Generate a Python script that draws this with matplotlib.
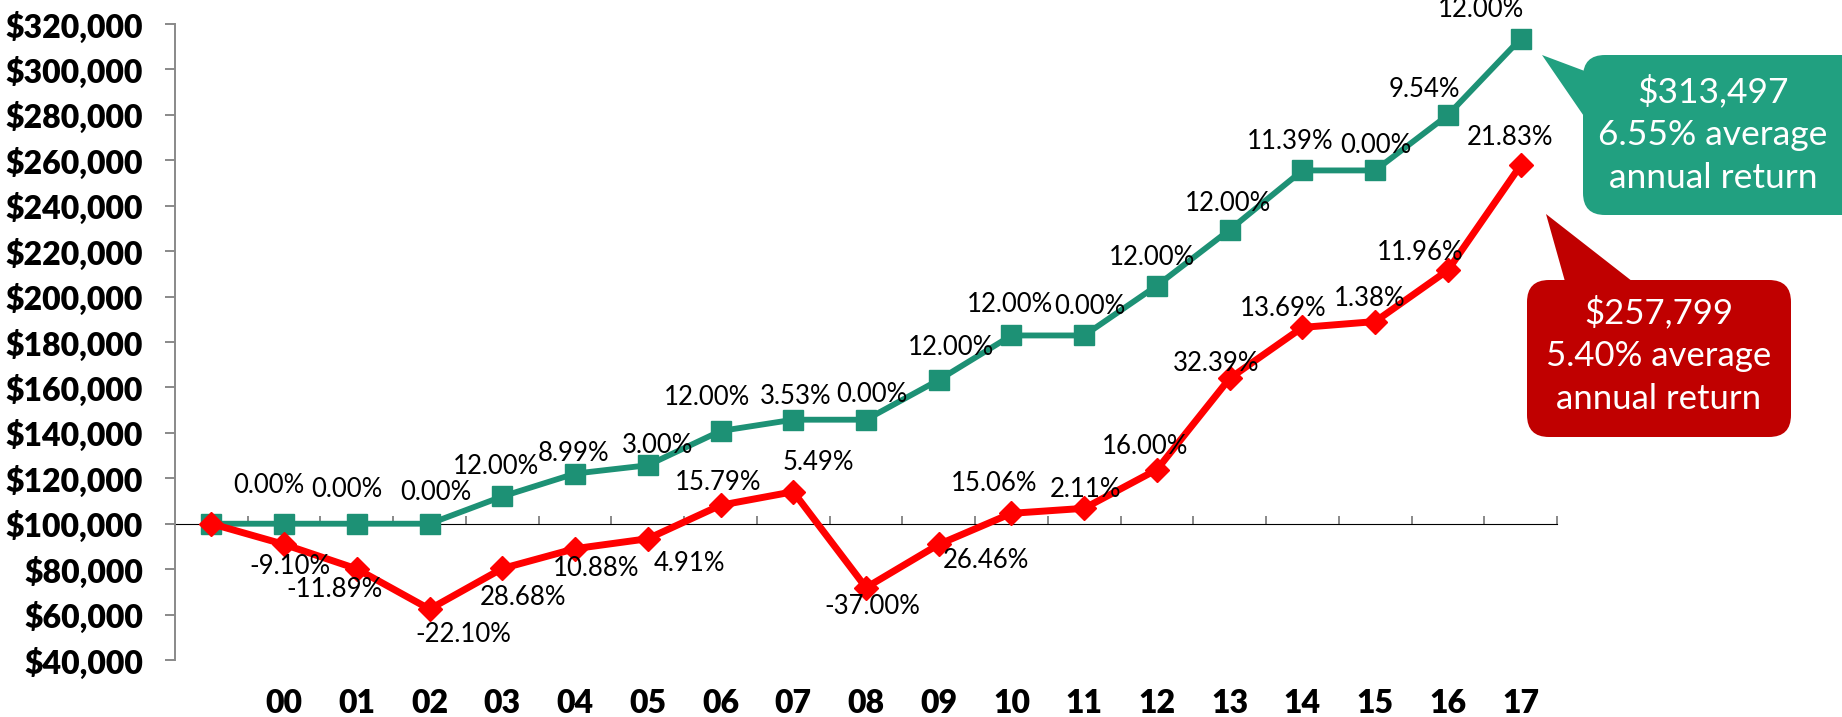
import matplotlib
matplotlib.use("Agg")
import matplotlib.pyplot as plt
from matplotlib.patches import FancyBboxPatch, Polygon
from matplotlib.ticker import StrMethodFormatter

# data
categories = ["", "00", "01", "02", "03", "04", "05", "06", "07", "08",
              "09", "10", "11", "12", "13", "14", "15", "16", "17"]

green_values = [100000, 100000, 100000, 100000, 112000, 122069, 125731,
                140819, 145790, 145790, 163285, 182879, 182879, 204825,
                229404, 255533, 255533, 279911, 313497]
green_labels = ["", "0.00%", "0.00%", "0.00%", "12.00%", "8.99%", "3.00%",
                "12.00%", "3.53%", "0.00%", "12.00%", "12.00%", "0.00%",
                "12.00%", "12.00%", "11.39%", "0.00%", "9.54%", "12.00%"]

red_values = [100000, 90900, 80092, 62392, 80286, 89021, 93392, 108138,
              114075, 71867, 90883, 104570, 106777, 123861, 163980, 186429,
              189002, 211606, 257799]
red_labels = ["", "-9.10%", "-11.89%", "-22.10%", "28.68%", "10.88%", "4.91%",
              "15.79%", "5.49%", "-37.00%", "26.46%", "15.06%", "2.11%",
              "16.00%", "32.39%", "13.69%", "1.38%", "11.96%", "21.83%"]

green_note = "$313,497\n6.55% average\nannual return"
red_note = "$257,799\n5.40% average\nannual return"

# label positions (pixel offsets from the point)
green_off = [(0, 0), (-15, 38), (-10, 34), (6, 31), (-6, 30), (-1, 20), (10, 20),
             (-14, 33), (2, 23), (6, 25), (12, 32), (-1, 31), (6, 29),
             (-5, 28), (-2, 26), (-12, 29), (1, 25), (-24, 26), (-40, 29)]
red_off = [(0, 0), (6, -22), (-22, -21), (34, -25), (21, -29), (21, -20), (42, -25),
           (-2, 23), (25, 29), (6, -19), (47, -16), (-17, 30), (1, 19),
           (-12, 23), (-14, 15), (-19, 19), (-5, 23), (-28, 18), (-11, 28)]

GREEN = "#1d9175"
GREEN_BOX = "#21a080"
RED = "#ff0000"
RED_BOX = "#c00000"
GRAY = "#898989"

plt.rcParams["font.family"] = ["Lato", "DejaVu Sans"]

W, H = 1842, 717
fig = plt.figure(figsize=(W / 100, H / 100), dpi=100)
ax = fig.add_axes([175 / W, 1 - 660 / H, (1557 - 175) / W, (660 - 24) / H])

x = list(range(len(categories)))
ax.plot(x, green_values, color=GREEN, lw=4.2, marker="s", ms=15,
        zorder=3, clip_on=False)
ax.plot(x, red_values, color=RED, lw=5, marker="D", ms=12,
        zorder=4, clip_on=False)

for i in x:
    if green_labels[i]:
        ax.annotate(green_labels[i], (i, green_values[i]), xytext=green_off[i],
                    textcoords="offset pixels", ha="center", va="center",
                    fontsize=18.5, color="black", zorder=5)
    if red_labels[i]:
        ax.annotate(red_labels[i], (i, red_values[i]), xytext=red_off[i],
                    textcoords="offset pixels", ha="center", va="center",
                    fontsize=18.5, color="black", zorder=5)

ax.set_xlim(-0.5, len(categories) - 0.5)
ax.set_ylim(40000, 320000)
ax.set_yticks(range(40000, 320001, 20000))
ax.yaxis.set_major_formatter(StrMethodFormatter("${x:,.0f}"))

for s in ["top", "right", "bottom"]:
    ax.spines[s].set_visible(False)
ax.spines["left"].set_color(GRAY)
ax.spines["left"].set_linewidth(1.4)
ax.tick_params(axis="y", direction="out", length=7, width=1.4, color=GRAY,
               pad=16, labelsize=23)
for t in ax.get_yticklabels():
    t.set_fontweight("heavy")

# category labels at the bottom
ax.set_xticks(x, categories)
ax.tick_params(axis="x", length=0, pad=21, labelsize=23)
for t in ax.get_xticklabels():
    t.set_fontweight("heavy")

# horizontal category axis crossing at $100,000
sec = ax.secondary_xaxis(100000, transform=ax.transData)
sec.set_xticks([i + 0.5 for i in x], [""] * len(x))
sec.tick_params(axis="x", direction="out", length=6, width=1.4, color=GRAY)
sec.spines["bottom"].set_color(GRAY)
sec.spines["bottom"].set_linewidth(1.4)


def px(xp, yp):
    return (xp / 100, (H - yp) / 100)


def callout(x0, y0, x1, y1, tri, color, text, tx, ty, size):
    (bx, by) = px(x0, y1)
    box = FancyBboxPatch((bx, by), (x1 - x0) / 100, (y1 - y0) / 100,
                         boxstyle="round,pad=0,rounding_size=0.22",
                         transform=fig.dpi_scale_trans, fc=color, ec="none")
    fig.add_artist(box)
    fig.add_artist(Polygon([px(*p) for p in tri], closed=True,
                           transform=fig.dpi_scale_trans, fc=color, ec="none"))
    fig.text(*px(tx, ty), text, transform=fig.dpi_scale_trans, ha="center",
             va="center", color="white", fontsize=size, linespacing=1.42)


callout(1583, 55, 1870, 215, [(1542, 55), (1590, 73), (1590, 125)],
        GREEN_BOX, green_note, 1713, 134, 25.5)
callout(1527, 280, 1791, 437, [(1546, 214), (1566, 285), (1637, 285)],
        RED_BOX, red_note, 1659, 355, 25)

plt.savefig("out.png", dpi=100)
